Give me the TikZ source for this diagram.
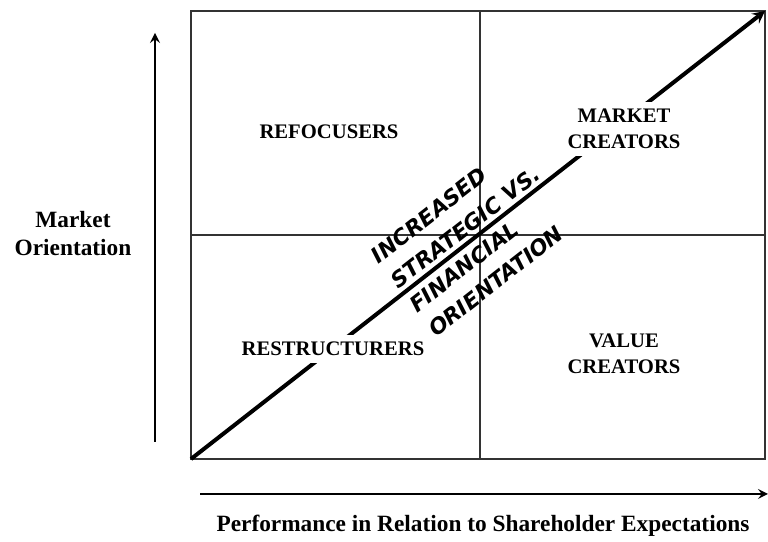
\documentclass[tikz,border=0pt]{standalone}
\usepackage{fontspec}
\setmainfont{Liberation Serif}
\newfontfamily\slantfont{DejaVu Sans}
\usetikzlibrary{positioning}

\begin{document}
\begin{tikzpicture}[x=0.75pt,y=0.75pt,>=stealth,
    quad label/.style={font=\fontsize{15.5}{19.5}\selectfont\bfseries,align=center,fill=white,inner sep=5pt},
    axis label/.style={font=\fontsize{17.5}{21}\selectfont\bfseries,align=center},
    slant line/.style={font=\fontsize{16.3}{18}\slantfont\bfseries\itshape,anchor=base west,transform shape,inner sep=0pt},
    grid line/.style={draw=black!80,line width=1.3pt}]
    \useasboundingbox (0,0) rectangle (768,542);

    % the matrix
    \coordinate (sw) at (191,83);
    \coordinate (ne) at (765,531);
    \coordinate (mid) at (480,307);
    \draw[grid line] (sw) rectangle (ne);
    \draw[grid line] (mid |- sw) -- (mid |- ne);
    \draw[grid line] (mid -| sw) -- (mid -| ne);

    % diagonal
    \draw[->,line width=3pt] (sw) -- (ne);
    \begin{scope}[shift={(mid)},rotate=37.97]
        \node[slant line] (l1) at (-98,39) {INCREASED};
        \node[slant line] (l2) at (-98,7) {STRATEGIC VS.};
        \node[slant line] (l3) at (-98,-23) {FINANCIAL};
        \node[slant line] (l4) at (-98,-54) {ORIENTATION};
    \end{scope}

    % quadrant names sit on top of the diagonal
    \node[quad label] (refoc) at (329,410) {REFOCUSERS};
    \node[quad label] (mcreat) at (624,413) {MARKET\\CREATORS};
    \node[quad label] (restr) at (333,193) {RESTRUCTURERS};
    \node[quad label] (vcreat) at (624,188) {VALUE\\CREATORS};

    % axes
    \coordinate (ybot) at (155,100);
    \coordinate (ytop) at (155,509);
    \coordinate (xleft) at (200,48);
    \coordinate (xright) at (768,48);
    \draw[->,line width=2.2pt] (ybot) -- (ytop);
    \draw[->,line width=2.2pt] (xleft) -- (xright);

    \node[axis label] (ylab) at (73,308) {Market\\Orientation};
    \node[axis label] (xlab) at (483,16) {Performance in Relation to Shareholder Expectations};
\end{tikzpicture}
\end{document}
